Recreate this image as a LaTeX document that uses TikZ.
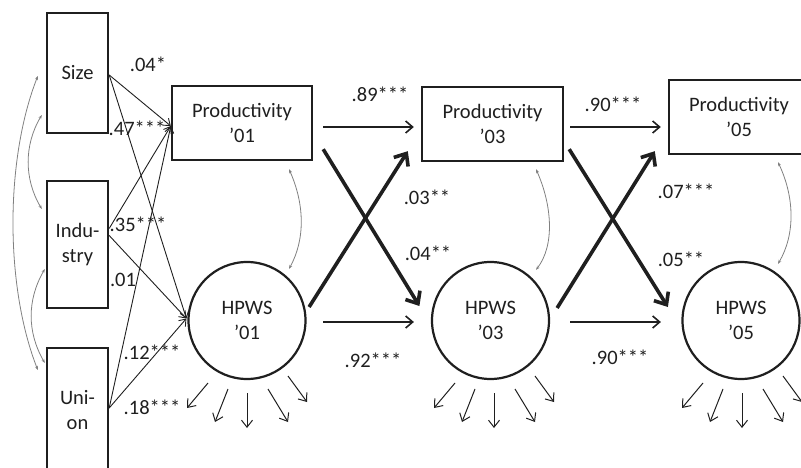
\documentclass[tikz,border=0pt]{standalone}
\usepackage{fontspec}
\setmainfont{Carlito}
\usetikzlibrary{arrows.meta,calc}

\begin{document}
\begin{tikzpicture}[x=1pt,y=-1pt,
  every node/.style={font=\fontsize{20.5}{25}\selectfont, text=black!88},
  obsbox/.style={draw=black!88, line width=2.4pt, rectangle, inner sep=0pt, align=center},
  latent/.style={draw=black!88, line width=2.2pt, circle, minimum size=117pt, inner sep=0pt, align=center},
  coef/.style={inner sep=0pt},
  thin/.style={draw=black!88, line width=0.9pt, -{Straight Barb[length=6pt,width=9pt]}},
  mid/.style={draw=black!88, line width=1.6pt, -{Straight Barb[length=7pt,width=12pt]}},
  heavy/.style={draw=black!88, line width=3.6pt, -{Straight Barb[length=10pt,width=17pt]}},
  resid/.style={draw=black!88, line width=1pt, -{Straight Barb[length=7pt,width=11pt]}},
  cov/.style={draw=black!50, line width=0.8pt, {Stealth[length=4pt,width=3pt]}-{Stealth[length=4pt,width=3pt]}}
]
\useasboundingbox (0,0) rectangle (801,468);
\clip (0,0) rectangle (801,468);

% exogenous controls
\node[obsbox, minimum width=61pt, minimum height=120pt] (size) at (77.5,73) {Size};
\node[obsbox, minimum width=61pt, minimum height=127pt] (industry) at (77.5,244.5) {Indu-\\stry};
\node[obsbox, minimum width=61pt, minimum height=124pt] (union) at (77.5,410) {Uni-\\on};

% productivity boxes
\node[obsbox, minimum width=140pt, minimum height=74pt] (prod01) at (242,123) {Productivity\\’01};
\node[obsbox, minimum width=141pt, minimum height=74pt] (prod03) at (492.5,124) {Productivity\\’03};
\node[obsbox, minimum width=140pt, minimum height=74pt] (prod05) at (739,117) {Productivity\\’05};

% HPWS latent factors
\node[latent] (hpws01) at (247,320.5) {HPWS\\’01};
\node[latent] (hpws03) at (490.5,320.5) {HPWS\\’03};
\node[latent] (hpws05) at (741,320.5) {HPWS\\’05};

% paths from the controls
\draw[thin] ($(size.east)+(0,2)$) -- ($(prod01.west)+(0,3)$);
\draw[thin] ($(size.east)+(0,2)$) -- ($(hpws01.west)+(-1,-2)$);
\draw[thin] ($(industry.east)+(0,-16)$) -- ($(prod01.west)+(0,3)$);
\draw[thin] ($(industry.east)+(0,-9)$) -- ($(hpws01.west)+(-1,-2)$);
\draw[thin] ($(union.east)+(0,-2)$) -- ($(prod01.west)+(0,3)$);
\draw[thin] ($(union.east)+(0,-2)$) -- ($(hpws01.west)+(-1,-2)$);

% stability paths
\draw[mid] ($(prod01.east)+(10,4)$) -- ($(prod03.west)+(-7,3)$);
\draw[mid] ($(prod03.east)+(6,3)$) -- ($(prod05.west)+(-7,10)$);
\draw[mid] ($(hpws01.east)+(16.5,1.5)$) -- ($(hpws03.west)+(-17,1.5)$);
\draw[mid] ($(hpws03.east)+(20,1.5)$) -- ($(hpws05.west)+(-20.5,1.5)$);

% cross-lagged paths
\draw[heavy] ($(prod01.south east)+(10,-12)$) -- ($(hpws03.west)+(-11.5,-14.5)$);
\draw[heavy] ($(hpws01.east)+(2.5,-13.5)$) -- ($(prod03.south west)+(-13,-11)$);
\draw[heavy] ($(prod03.south east)+(5,-13)$) -- ($(hpws05.west)+(-13.5,-13.5)$);
\draw[heavy] ($(hpws03.east)+(7,-12.5)$) -- ($(prod05.south west)+(-13,-4)$);

% covariances among controls
\draw[cov] ($(size.west)+(-4,42)$) .. controls (24,145) and (24,179) .. ($(industry.west)+(-4,-35.5)$);
\draw[cov] ($(size.west)+(-8,3)$) .. controls (5,160) and (5,286) .. ($(union.west)+(-8,-40)$);
\draw[cov] ($(industry.west)+(-1,24.5)$) .. controls (27,300) and (27,332) .. ($(union.west)+(-1,-47)$);

% within-wave covariances
\draw[cov] ($(prod01.south)+(47,8)$) .. controls (305,205) and (305,240) .. ($(hpws01.north)+(42,8)$);
\draw[cov] ($(prod03.south)+(43.5,7)$) .. controls (552,205) and (555,245) .. ($(hpws03.north)+(45.5,9)$);
\draw[cov] ($(prod05.south)+(39,7)$) .. controls (795,198) and (795,235) .. ($(hpws05.north)+(37,3)$);

% indicator arrows
\foreach \c/\s in {hpws01/0, hpws03/3.5, hpws05/1}{
  \foreach \ax/\ay/\bx/\by in {-39/62.5/-60/87.5, -19/68.5/-32/101.5, 0/72.5/0/107.5, 21/68.5/41/101.5, 41/55.5/60/81.5}{
    \draw[resid] ($(\c.center)+(\ax+\s,\ay)$) -- ($(\c.center)+(\bx+\s,\by)$);
  }
}

% coefficients
\node[coef] (c1) at (148,64) {.04*};
\node[coef] (c2) at (137,128) {.47***};
\node[coef] (c3) at (138,224) {.35***};
\node[coef] (c4) at (123,280) {.01};
\node[coef] (c5) at (152,352) {.12***};
\node[coef] (c6) at (152,407) {.18***};
\node[coef] (c7) at (380,94) {.89***};
\node[coef] (c8) at (613,104) {.90***};
\node[coef] (c9) at (373,360) {.92***};
\node[coef] (c10) at (620,357) {.90***};
\node[coef] (c11) at (427,197) {.03**};
\node[coef] (c12) at (428,253) {.04**};
\node[coef] (c13) at (686,191) {.07***};
\node[coef] (c14) at (681,259) {.05**};
\end{tikzpicture}
\end{document}
